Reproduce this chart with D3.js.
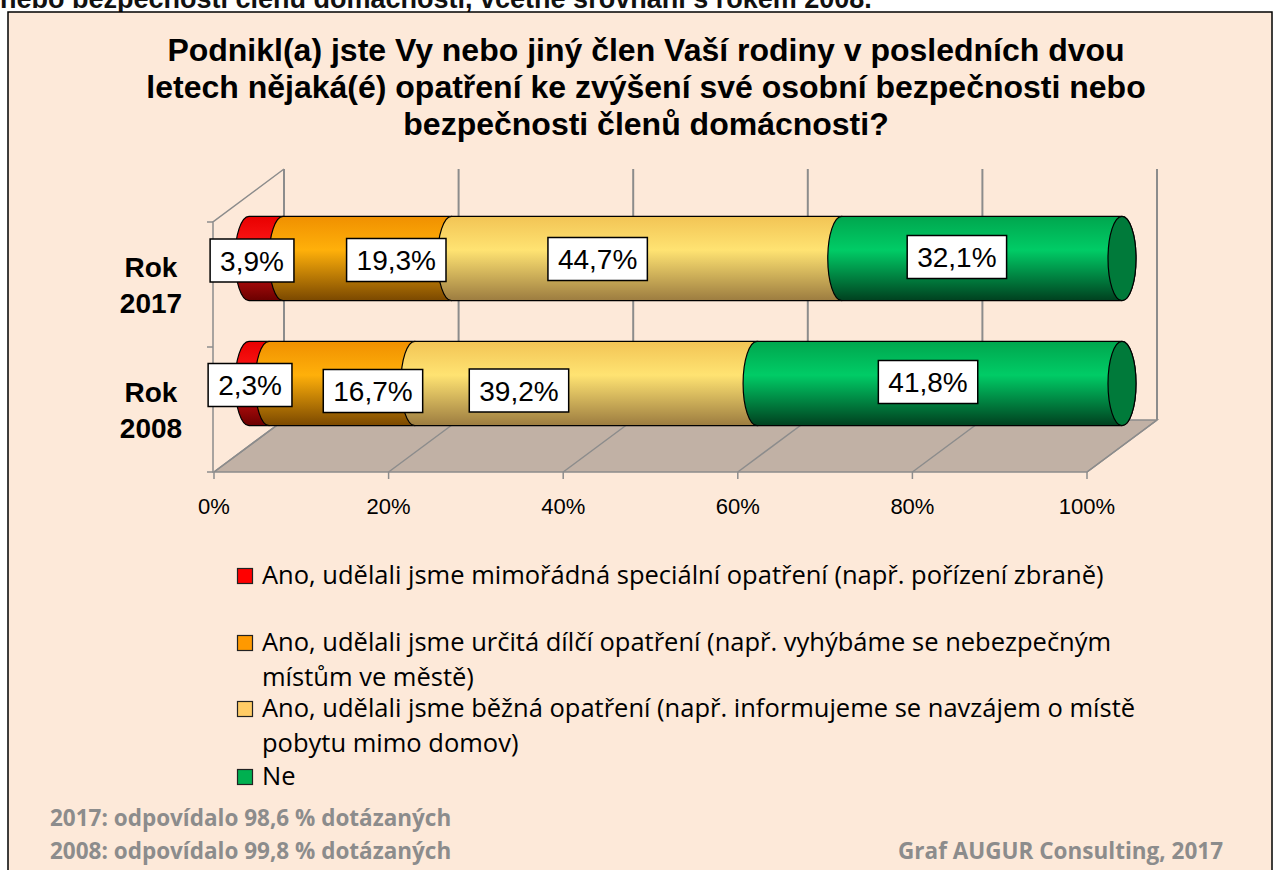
<!DOCTYPE html>
<html>
<head>
<meta charset="utf-8">
<script src="https://cdn.jsdelivr.net/npm/d3@7"></script>
<style>
  body { margin: 0; background: #fff; }
  svg { display: block; }
</style>
</head>
<body>
<svg id="chart" width="1274" height="870"></svg>
<script>
// data
const categories = ["Rok 2017", "Rok 2008"];
const yearLines = [["Rok", "2017"], ["Rok", "2008"]];
const seriesKeys = ["special", "partial", "common", "no"];
const seriesNames = [
  ["Ano, udělali jsme mimořádná speciální opatření (např. pořízení zbraně)"],
  ["Ano, udělali jsme určitá dílčí opatření (např. vyhýbáme se nebezpečným", "místům ve městě)"],
  ["Ano, udělali jsme běžná opatření (např. informujeme se navzájem o místě", "pobytu mimo domov)"],
  ["Ne"]
];
const values2017 = [3.9, 19.3, 44.7, 32.1];
const values2008 = [2.3, 16.7, 39.2, 41.8];
const xTicks = [0, 20, 40, 60, 80, 100];
const titleLines = [
  "Podnikl(a) jste Vy nebo jiný člen Vaší rodiny v posledních dvou",
  "letech nějaká(é) opatření ke zvýšení své osobní bezpečnosti nebo",
  "bezpečnosti členů domácnosti?"
];
const notes = ["2017: odpovídalo 98,6 % dotázaných", "2008: odpovídalo 99,8 % dotázaných"];
const credit = "Graf AUGUR Consulting, 2017";
const captionAbove = "nebo bezpečnosti členů domácnosti, včetně srovnání s rokem 2008.";

// styles
const fills = ["#FF0000", "#FF9900", "#FFCC66", "#00B050"];
const grads = [
  ["#E80000", "#FF1A1A", "#6A0000"],
  ["#F09000", "#FFB00A", "#7A4800"],
  ["#F2C455", "#FFE372", "#9C7C40"],
  ["#00A64E", "#00CC66", "#00401F"]
];
const capColor = "#007A3A";
const gridColor = "#8C8C8C";
const depthX = 70, depthY = 52;
// Excel's own nudges of the data labels (px)
const labelNudge = [
  [[-14, 2], [29, 1.5], [-49, 0.5], [-25, -1.5]],
  [[-9, 1.5], [31, 7.5], [-67, 7], [-11.5, -1.5]]
];

const svg = d3.select("#chart");
const defs = svg.append("defs");

svg.append("text")
  .attr("x", 0).attr("y", 8)
  .attr("font-family", "Liberation Sans, Arial, sans-serif")
  .attr("font-weight", "bold").attr("font-size", 27)
  .attr("fill", "#111")
  .text(captionAbove);

svg.append("rect")
  .attr("x", 8).attr("y", 12).attr("width", 1264).attr("height", 880)
  .attr("fill", "#FDE9D9").attr("stroke", "#000").attr("stroke-width", 1.5);

// title
svg.append("text")
  .attr("font-family", "Liberation Sans, Arial, sans-serif")
  .attr("font-weight", "bold").attr("font-size", 32)
  .attr("text-anchor", "middle").attr("fill", "#000")
  .selectAll("tspan").data(titleLines).enter().append("tspan")
  .attr("x", 646).attr("y", (d, i) => 61 + i * 37)
  .text(d => d);

const x = d3.scaleLinear().domain([0, 100]).range([214, 1087]);
const y = d3.scaleBand().domain(categories).range([222, 472]);
const floorY = y.range()[1], topY = y.range()[0];

// floor
const g = svg.append("g");
g.append("path")
  .attr("d", `M${x(0)},${floorY}L${x(100)},${floorY}L${x(100) + depthX},${floorY - depthY}L${x(0) + depthX},${floorY - depthY}Z`)
  .attr("fill", "#C1B1A5").attr("stroke", gridColor).attr("stroke-width", 1.5);

// floor diagonals + back-wall gridlines
g.selectAll(".fdiag").data(xTicks).enter().append("line")
  .attr("x1", d => x(d)).attr("y1", floorY)
  .attr("x2", d => x(d) + depthX).attr("y2", floorY - depthY)
  .attr("stroke", gridColor).attr("stroke-width", 1.5);
g.selectAll(".grid").data(xTicks).enter().append("line")
  .attr("x1", d => x(d) + depthX).attr("y1", topY - depthY - 1)
  .attr("x2", d => x(d) + depthX).attr("y2", floorY - depthY)
  .attr("stroke", gridColor).attr("stroke-width", 2);

// left wall edges
g.append("path")
  .attr("d", `M${x(0) - 1},${floorY}L${x(0) - 1},${topY}L${x(0) + depthX},${topY - depthY - 1}`)
  .attr("fill", "none").attr("stroke", gridColor).attr("stroke-width", 1.5);
g.selectAll(".ytick").data([topY, y(categories[1]), floorY]).enter().append("line")
  .attr("x1", x(0) - 7).attr("x2", x(0) - 1)
  .attr("y1", d => d).attr("y2", d => d)
  .attr("stroke", gridColor).attr("stroke-width", 1.5);

// x ticks + labels
g.selectAll(".xtick").data(xTicks).enter().append("line")
  .attr("x1", d => x(d)).attr("x2", d => x(d))
  .attr("y1", floorY).attr("y2", floorY + 7)
  .attr("stroke", gridColor).attr("stroke-width", 1.5);
g.selectAll(".xlab").data(xTicks).enter().append("text")
  .attr("x", d => x(d)).attr("y", floorY + 42)
  .attr("text-anchor", "middle")
  .attr("font-family", "Liberation Sans, Arial, sans-serif").attr("font-size", 22)
  .attr("fill", "#000")
  .text(d => d + "%");

// year labels
svg.selectAll(".year").data(categories).enter().append("text")
  .attr("font-family", "Liberation Sans, Arial, sans-serif")
  .attr("font-weight", "bold").attr("font-size", 28)
  .attr("text-anchor", "middle").attr("fill", "#000")
  .each(function(d, i) {
    const cy = y(d) + y.bandwidth() / 2;
    d3.select(this).selectAll("tspan").data(yearLines[i]).enter().append("tspan")
      .attr("x", 151).attr("y", (t, j) => cy - 8 + j * 36)
      .text(t => t);
  });

// gradients
grads.forEach((c, i) => {
  const lg = defs.append("linearGradient").attr("id", "cyl" + i)
    .attr("x1", 0).attr("y1", 0).attr("x2", 0).attr("y2", 1);
  lg.append("stop").attr("offset", "0%").attr("stop-color", c[0]);
  lg.append("stop").attr("offset", "40%").attr("stop-color", c[1]);
  lg.append("stop").attr("offset", "100%").attr("stop-color", c[2]);
});

// stacked cylinders
const rows = categories.map((c, i) => {
  const vals = i === 0 ? values2017 : values2008;
  const r = { cat: c };
  seriesKeys.forEach((k, j) => r[k] = vals[j]);
  return r;
});
const stacked = d3.stack().keys(seriesKeys)(rows);
const barH = y.bandwidth() * 0.675;
const ry = barH / 2, rx = 14;
const X = v => x(v) + depthX / 2;
const Yc = c => y(c) + y.bandwidth() / 2 - depthY / 2;

function segPath(x0, x1, yc) {
  return `M${x0},${yc - ry}L${x1},${yc - ry}A${rx},${ry} 0 0 1 ${x1},${yc + ry}` +
         `L${x0},${yc + ry}A${rx},${ry} 0 0 1 ${x0},${yc - ry}Z`;
}

const bars = svg.append("g");
stacked.forEach((layer, si) => {
  bars.selectAll(".seg" + si).data(layer).enter().append("path")
    .attr("d", d => segPath(X(d[0]), X(d[1]), Yc(d.data.cat)))
    .attr("fill", `url(#cyl${si})`)
    .attr("stroke", "#000").attr("stroke-width", 1.2);
});
bars.selectAll(".cap").data(rows).enter().append("ellipse")
  .attr("cx", X(100)).attr("cy", d => Yc(d.cat))
  .attr("rx", rx).attr("ry", ry)
  .attr("fill", capColor).attr("stroke", "#000").attr("stroke-width", 1.2);

// data labels
const fmt = v => d3.format(".1f")(v).replace(".", ",") + "%";
const labels = svg.append("g");
stacked.forEach((layer, si) => {
  layer.forEach((d, ci) => {
    const nudge = labelNudge[ci][si];
    const cx = X((d[0] + d[1]) / 2) + nudge[0];
    const cy = Yc(d.data.cat) + nudge[1];
    const lg = labels.append("g");
    const rect = lg.append("rect").attr("fill", "#fff").attr("stroke", "#000").attr("stroke-width", 1.5);
    const t = lg.append("text")
      .attr("x", cx).attr("y", cy + 10)
      .attr("text-anchor", "middle")
      .attr("font-family", "Liberation Sans, Arial, sans-serif").attr("font-size", 28)
      .attr("fill", "#000")
      .text(fmt(d[1] - d[0]));
    const w = t.node().getComputedTextLength() + 20;
    rect.attr("x", cx - w / 2).attr("y", cy - 21.5).attr("width", w).attr("height", 43);
  });
});

// legend
const legendY = [584, 651, 717, 785];
const legend = svg.append("g");
seriesNames.forEach((lines, i) => {
  legend.append("rect")
    .attr("x", 237.5).attr("y", legendY[i] - 15.5).attr("width", 15).attr("height", 15)
    .attr("fill", fills[i]).attr("stroke", "#222").attr("stroke-width", 1.2);
  legend.append("text")
    .attr("font-family", "Open Sans, sans-serif").attr("font-size", 25.5)
    .attr("fill", "#000")
    .selectAll("tspan").data(lines).enter().append("tspan")
    .attr("x", 262).attr("y", (d, j) => legendY[i] + j * 35)
    .text(d => d);
});

// footnotes
svg.append("text")
  .attr("font-family", "Open Sans, sans-serif").attr("font-weight", "bold").attr("font-size", 22.5)
  .attr("fill", "#8C8C8C")
  .selectAll("tspan").data(notes).enter().append("tspan")
  .attr("x", 50).attr("y", (d, i) => 826 + i * 33)
  .text(d => d);
svg.append("text")
  .attr("x", 1223).attr("y", 859)
  .attr("text-anchor", "end")
  .attr("font-family", "Open Sans, sans-serif").attr("font-weight", "bold").attr("font-size", 22.5)
  .attr("fill", "#8C8C8C")
  .text(credit);
</script>
</body>
</html>
